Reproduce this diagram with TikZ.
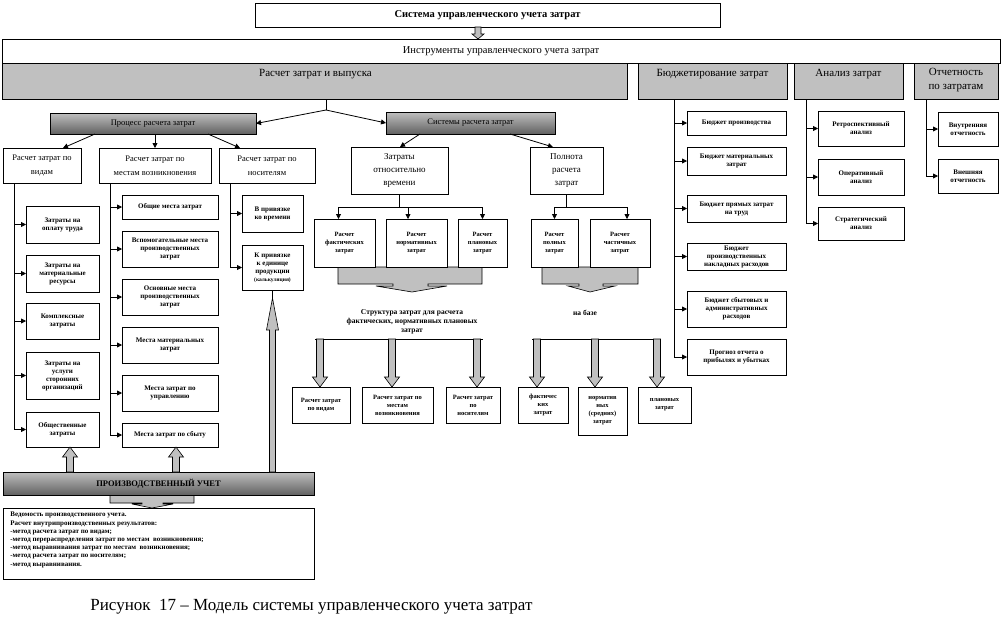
\documentclass[tikz,border=0pt]{standalone}
\usepackage{fontspec}
\setmainfont{Liberation Serif}
\usetikzlibrary{arrows.meta,calc}
\definecolor{hdrgray}{RGB}{192,192,192}
\newcommand{\mkbox}[7]{\node[#6, minimum width={#4-#2}, minimum height={#5-#3}] (#1) at ({(#2+#4)/2},{(#3+#5)/2}) {#7};}
\def\gsw{3.5pt}\def\ghw{7.5pt}\def\ghl{10pt}
\begin{document}
\begin{tikzpicture}[x=1pt,y=-1pt,line width=0.8pt,
 bx/.style={draw, fill=white, outer sep=0pt, inner sep=1pt, align=center},
 sm/.style={bx, font=\bfseries\fontsize{7}{8}\selectfont},
 smb/.style={bx, font=\bfseries\fontsize{6.5}{8}\selectfont},
 md/.style={bx, font=\fontsize{8.5}{14}\selectfont},
 hdr/.style={draw, fill=hdrgray, outer sep=0pt, inner sep=0pt},
 hdrtxt/.style={anchor=north, inner sep=0pt, align=center, font=\fontsize{11}{14}\selectfont},
 shd/.style={draw, outer sep=0pt, inner sep=1pt, top color=black!25, middle color=white, bottom color=black!62, font=\fontsize{8.5}{10}\selectfont},
 arr/.style={-{Triangle[length=5pt,width=5pt]}},
 gfill/.style={draw, fill=hdrgray, line width=0.6pt},
 gblock/.style={gfill, to path={let \p1=(\tikztostart), \p2=(\tikztotarget), \n1={ifthenelse(\y2>\y1,\y2-\ghl,\y2+\ghl)} in (\x1-\gsw,\y1) -- (\x2-\gsw,\n1) -- (\x2-\ghw,\n1) -- (\x2,\y2) -- (\x2+\ghw,\n1) -- (\x2+\gsw,\n1) -- (\x1+\gsw,\y1) -- cycle}},
]
\useasboundingbox (0,0) rectangle (1002,630);

% ---------- top ----------
\mkbox{title}{255}{3}{720}{27}{bx, font=\bfseries\fontsize{10.5}{12}\selectfont}{Система управленческого учета затрат}
\mkbox{instr}{2}{39}{1000}{63}{draw, outer sep=0pt, inner sep=0pt, font=\fontsize{10.5}{12}\selectfont}{Инструменты управленческого учета затрат}
\coordinate (tx) at (478,0);
{\def\gsw{3pt}\def\ghw{6pt}\def\ghl{5pt}
\draw[gblock] (title.south -| tx) to (instr.north -| tx);}

\mkbox{rzv}{2}{63}{627}{99}{hdr}{}
\mkbox{bud}{638}{63}{787}{99}{hdr}{}
\mkbox{an}{794}{63}{903}{99}{hdr}{}
\mkbox{ot}{914}{63}{998}{99}{hdr}{}
\node[hdrtxt] (rzvt) at ($(rzv.north)+(1,6)$) {Расчет затрат и выпуска};
\node[hdrtxt] (budt) at ($(bud.north)+(0,6)$) {Бюджетирование затрат};
\node[hdrtxt] (ant) at ($(an.north)+(0,6)$) {Анализ затрат};
\node[hdrtxt] (ott) at ($(ot.north)+(0,5)$) {Отчетность\\по затратам};

% ---------- process / systems ----------
\mkbox{proc}{50}{113}{256}{134}{shd}{Процесс расчета затрат}
\mkbox{sys}{386}{112}{555}{134}{shd}{Системы расчета затрат}
\coordinate (sp) at (326,110);
\draw (rzv.south -| sp) -- (sp);
\draw[arr] (sp) -- (proc.east);
\draw[arr] (sp) -- (sys.west);

\mkbox{k1}{3}{148}{81}{183}{md}{Расчет затрат по\\видам}
\mkbox{k2}{99}{148}{211}{183}{md}{Расчет затрат по\\местам возникновения}
\mkbox{k3}{219}{148}{315}{183}{md}{Расчет затрат по\\носителям}
\draw[arr] ($(proc.south west)+(45,0)$) -- ($(k1.north)+(21,0)$);
\draw[arr] (proc.south -| k2.north) -- (k2.north);
\draw[arr] ($(proc.south east)+(-48,0)$) -- ($(k3.north)+(-27,0)$);

% left column
\mkbox{l1}{26}{206}{99}{243}{sm}{Затраты на\\оплату труда}
\mkbox{l2}{26}{255}{99}{292}{sm}{Затраты на\\материальные\\ресурсы}
\mkbox{l3}{26}{303}{99}{339}{sm}{Комплексные\\затраты}
\mkbox{l4}{26}{352}{99}{399}{sm}{Затраты на\\услуги\\сторонних\\организаций}
\mkbox{l5}{26}{412}{99}{447}{sm}{Общественные\\затраты}
\coordinate (tL) at (14,0);
\draw (k1.south -| tL) -- (tL |- l5.west);
\foreach \b in {l1,l2,l3,l4,l5} \draw[arr] (tL |- \b.west) -- (\b.west);

% middle column
\mkbox{m1}{122}{195}{218}{219}{sm}{Общие места затрат}
\mkbox{m2}{122}{231}{218}{267}{sm}{Вспомогательные места\\производственных\\затрат}
\mkbox{m3}{122}{279}{218}{315}{sm}{Основные места\\производственных\\затрат}
\mkbox{m4}{122}{327}{218}{363}{sm}{Места материальных\\затрат}
\mkbox{m5}{122}{375}{218}{411}{sm}{Места затрат по\\управлению}
\mkbox{m6}{122}{423}{218}{447}{sm}{Места затрат по сбыту}
\coordinate (tM) at (110,0);
\draw (k2.south -| tM) -- (tM |- m6.west);
\foreach \b in {m1,m2,m3,m4,m5,m6} \draw[arr] (tM |- \b.west) -- (\b.west);

% right column
\mkbox{r1}{242}{195}{303}{232}{sm}{В привязке\\ко времени}
\mkbox{r2}{242}{245}{303}{290}{sm}{К привязке\\к единице\\продукции\\{\fontsize{5.5}{7}\selectfont(калькуляция)}}
\coordinate (tR) at (230,0);
\draw (k3.south -| tR) -- (tR |- r2.west);
\foreach \b in {r1,r2} \draw[arr] (tR |- \b.west) -- (\b.west);

% ---------- systems subtree ----------
\filldraw[gfill] (338,267) -- (482,267) -- (482,284) -- (428,284) -- (428,286) -- (447,286) -- (412,292) -- (376,286) -- (393,286) -- (393,284) -- (338,284) -- cycle;
\filldraw[gfill] (542,267) -- (638,267) -- (638,284) -- (603,284) -- (603,286) -- (615,286) -- (590,292) -- (568,286) -- (579,286) -- (579,284) -- (542,284) -- cycle;

\mkbox{zo}{351}{147}{448}{194}{md, font=\fontsize{9}{13}\selectfont}{Затраты\\относительно\\времени}
\mkbox{pl}{530}{147}{603}{194}{md, font=\fontsize{9}{13}\selectfont}{Полнота\\расчета\\затрат}
\draw[arr] ($(sys.south west)+(34,0)$) -- ($(zo.north)+(0.5,0)$);
\draw[arr] ($(sys.south east)+(-45,0)$) -- ($(pl.north)+(-13.5,0)$);

\mkbox{s1}{314}{219}{375}{267}{smb}{Расчет\\фактических\\затрат}
\mkbox{s2}{386}{219}{447}{267}{smb}{Расчет\\нормативных\\затрат}
\mkbox{s3}{458}{219}{507}{267}{smb}{Расчет\\плановых\\затрат}
\mkbox{s4}{531}{219}{578}{267}{smb}{Расчет\\полных\\затрат}
\mkbox{s5}{590}{219}{650}{267}{smb}{Расчет\\частичных\\затрат}
\draw (zo.south) -- ($(zo.south)+(0,13)$);
\draw ($(s1.north)+(-6,-12)$) -- ($(s3.north)+(0,-12)$);
\draw[arr] ($(s1.north)+(-6,-12)$) -- ($(s1.north)+(-6,0)$);
\draw[arr] ($(s2.north)+(-8.5,-12)$) -- ($(s2.north)+(-8.5,0)$);
\draw[arr] ($(s3.north)+(0,-12)$) -- (s3.north);
\draw (pl.south) -- ($(pl.south)+(0,13)$);
\draw ($(s4.north)+(0,-12)$) -- ($(s5.north)+(7,-12)$);
\draw[arr] ($(s4.north)+(0,-12)$) -- (s4.north);
\draw[arr] ($(s5.north)+(7,-12)$) -- ($(s5.north)+(7,0)$);

\node[font=\bfseries\fontsize{7.5}{9}\selectfont, align=center] (lab1) at (412,322) {Структура затрат для расчета\\фактических, нормативных плановых\\затрат};
\node[font=\bfseries\fontsize{7.5}{9}\selectfont] (lab2) at (585,313) {на базе};

\mkbox{b1}{292}{387}{350}{423}{smb}{Расчет затрат\\по видам}
\mkbox{b2}{362}{387}{433}{423}{smb}{Расчет затрат по\\местам\\возникновения}
\mkbox{b3}{446}{387}{500}{423}{smb}{Расчет затрат\\по\\носителям}
\mkbox{b4}{518}{387}{568}{423}{smb}{фактичес\\ких\\затрат}
\mkbox{b5}{578}{387}{627}{435}{smb}{норматив\\ных\\(средних)\\затрат}
\mkbox{b6}{638}{387}{691}{423}{smb}{плановых\\затрат}
\coordinate (h1) at (315,339); \coordinate (h2) at (483,339);
\coordinate (h3) at (532,339); \coordinate (h4) at (661,339);
\draw (h1) -- (h2);
\draw (h3) -- (h4);
\coordinate (g1) at (320,339); \coordinate (g2) at (392,339); \coordinate (g3) at (477,339);
\coordinate (g4) at (537,339); \coordinate (g5) at (595,339); \coordinate (g6) at (657,339);
\draw[gblock] (g1) to (g1 |- b1.north);
\draw[gblock] (g2) to (g2 |- b2.north);
\draw[gblock] (g3) to (g3 |- b3.north);
\draw[gblock] (g4) to (g4 |- b4.north);
\draw[gblock] (g5) to (g5 |- b5.north);
\draw[gblock] (g6) to (g6 |- b6.north);

% ---------- budgeting ----------
\mkbox{bu1}{687}{111}{786}{135}{sm}{Бюджет производства}
\mkbox{bu2}{687}{147}{786}{175}{sm}{Бюджет материальных\\затрат}
\mkbox{bu3}{687}{195}{786}{222}{sm}{Бюджет прямых затрат\\на труд}
\mkbox{bu4}{687}{243}{786}{270}{sm}{Бюджет\\производственных\\накладных расходов}
\mkbox{bu5}{687}{291}{786}{327}{sm}{Бюджет сбытовых и\\административных\\расходов}
\mkbox{bu6}{687}{339}{786}{375}{sm}{Прогноз отчета о\\прибылях и убытках}
\coordinate (tB) at (674,0);
\draw (bud.south -| tB) -- (tB |- bu6.west);
\foreach \b in {bu1,bu2,bu3,bu4,bu5,bu6} \draw[arr] (tB |- \b.west) -- (\b.west);

% ---------- analysis ----------
\mkbox{a1}{818}{111}{904}{146}{sm}{Ретроспективный\\анализ}
\mkbox{a2}{818}{159}{904}{195}{sm}{Оперативный\\анализ}
\mkbox{a3}{818}{207}{904}{240}{sm}{Стратегический\\анализ}
\coordinate (tA) at (806,0);
\draw (an.south -| tA) -- (tA |- a3.west);
\foreach \b in {a1,a2,a3} \draw[arr] (tA |- \b.west) -- (\b.west);

% ---------- reporting ----------
\mkbox{o1}{938}{112}{998}{146}{sm}{Внутренняя\\отчетность}
\mkbox{o2}{938}{159}{998}{193}{sm}{Внешняя\\отчетность}
\coordinate (tO) at (926,0);
\draw (ot.south -| tO) -- (tO |- o2.west);
\foreach \b in {o1,o2} \draw[arr] (tO |- \b.west) -- (\b.west);

% ---------- production accounting ----------
\filldraw[gfill] (110,494) -- (194,494) -- (194,503) -- (163,503) -- (163,504) -- (173,504) -- (152,508) -- (132,504) -- (142,504) -- (142,503) -- (110,503) -- cycle;
\mkbox{prod}{3}{472}{314}{495}{shd, font=\bfseries\fontsize{8.5}{10}\selectfont}{ПРОИЗВОДСТВЕННЫЙ УЧЕТ}
\coordinate (u1) at (70,0); \coordinate (u2) at (176,0); \coordinate (u3) at (272.5,0);
\coordinate (u3t) at ($(r2.south)+(0,8)$);
\draw[gblock] (prod.north -| u1) to (u1 |- l5.south);
\draw[gblock] (prod.north -| u2) to (u2 |- m6.south);
{\def\gsw{3pt}\def\ghw{6pt}\def\ghl{32pt}
\draw[gblock] (prod.north -| u3) to (u3 |- u3t);}
\draw (r2.south) -- (u3 |- u3t);
\mkbox{txt}{3}{508}{314}{579}{draw, outer sep=0pt}{}
\node[anchor=north west, inner sep=0pt, align=left, font=\bfseries\fontsize{7}{8.2}\selectfont] (txtt) at (10,512) {Ведомость производственного учета.\\
Расчет внутрипроизводственных результатов:\\
-метод расчета затрат по видам;\\
-метод перераспределения затрат по местам\ \ возникновения;\\
-метод выравнивания затрат по местам\ \ возникновения;\\
-метод расчета затрат по носителям;\\
-метод выравнивания.};

\node[anchor=west, inner sep=0pt, font=\fontsize{17}{20}\selectfont] (cap) at (90,607) {Рисунок\ \ 17 – Модель системы управленческого учета затрат};
\end{tikzpicture}
\end{document}
